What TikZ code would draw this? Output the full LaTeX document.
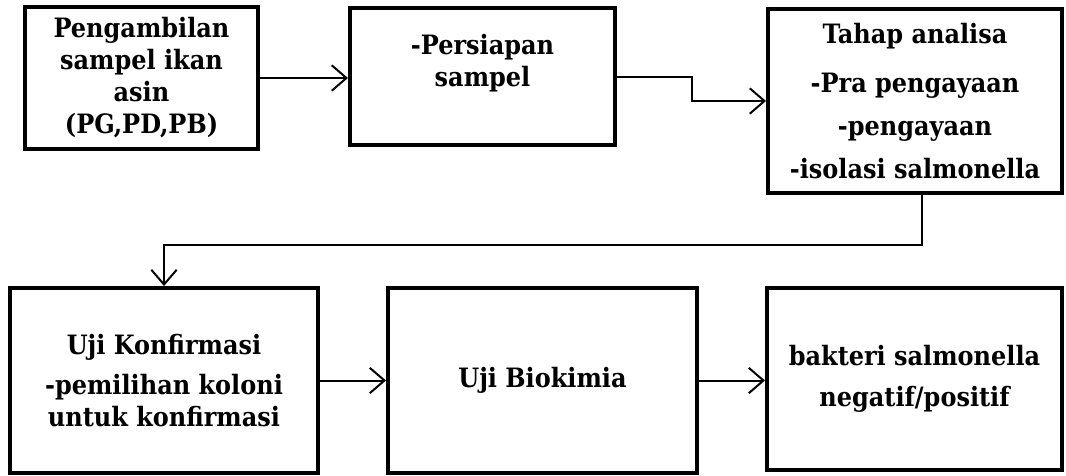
\documentclass[tikz,border=0pt]{standalone}
\usepackage{fontspec}
\setmainfont{DejaVu Serif Condensed}
\usepackage{tikz}
\usetikzlibrary{arrows.meta, calc, positioning}

\tikzset{
  stagebox/.style={draw, line width=3pt, align=center, inner sep=0pt,
    font=\bfseries\fontsize{20}{24}\selectfont},
  flowline/.style={line width=1.5pt, -{Straight Barb[length=11pt, width=19pt, line width=1.5pt]}}
}

\begin{document}
\begin{tikzpicture}[x=0.75pt, y=-0.75pt]
    \useasboundingbox (0, 0) rectangle (1066, 475);
    \node[stagebox, minimum width=174.75pt, minimum height=106.5pt] (ambil) at (141.5, 78) {Pengambilan\\sampel ikan\\asin\\(PG,PD,PB)};
    \node[stagebox, minimum width=198.75pt, minimum height=102.75pt] (siap) at (482.5, 76.5) {-Persiapan\\sampel\\\mbox{}};
    \node[stagebox, minimum width=220.5pt, minimum height=138pt, font=\bfseries\fontsize{20}{32}\selectfont] (analisa) at (915, 101) {Tahap analisa\\[5pt]-Pra pengayaan\\-pengayaan\\-isolasi salmonella};
    \node[stagebox, minimum width=231pt, minimum height=138.75pt] (konfirm) at (164, 380.5) {Uji Konfirmasi\\[6pt]-pemilihan koloni\\untuk konfirmasi};
    \node[stagebox, minimum width=231.75pt, minimum height=138.75pt] (biokim) at (542.5, 380.5) {Uji Biokimia};
    \node[stagebox, minimum width=221.25pt, minimum height=136.5pt, font=\bfseries\fontsize{20}{31}\selectfont] (hasil) at (914.5, 379) {bakteri salmonella\\negatif/positif};
    \draw[flowline] (ambil.east) -- (ambil.east -| siap.west);
    \draw[flowline] (siap.east) -| ($(siap.east)!0.5!(analisa.west)$) |- (analisa.west);
    \draw[flowline] ([xshift=5pt]analisa.south) -- ++(0, 50) -| (konfirm.north);
    \draw[flowline] (konfirm.east) -- (konfirm.east -| biokim.west);
    \draw[flowline] (biokim.east) -- (biokim.east -| hasil.west);
\end{tikzpicture}
\end{document}
